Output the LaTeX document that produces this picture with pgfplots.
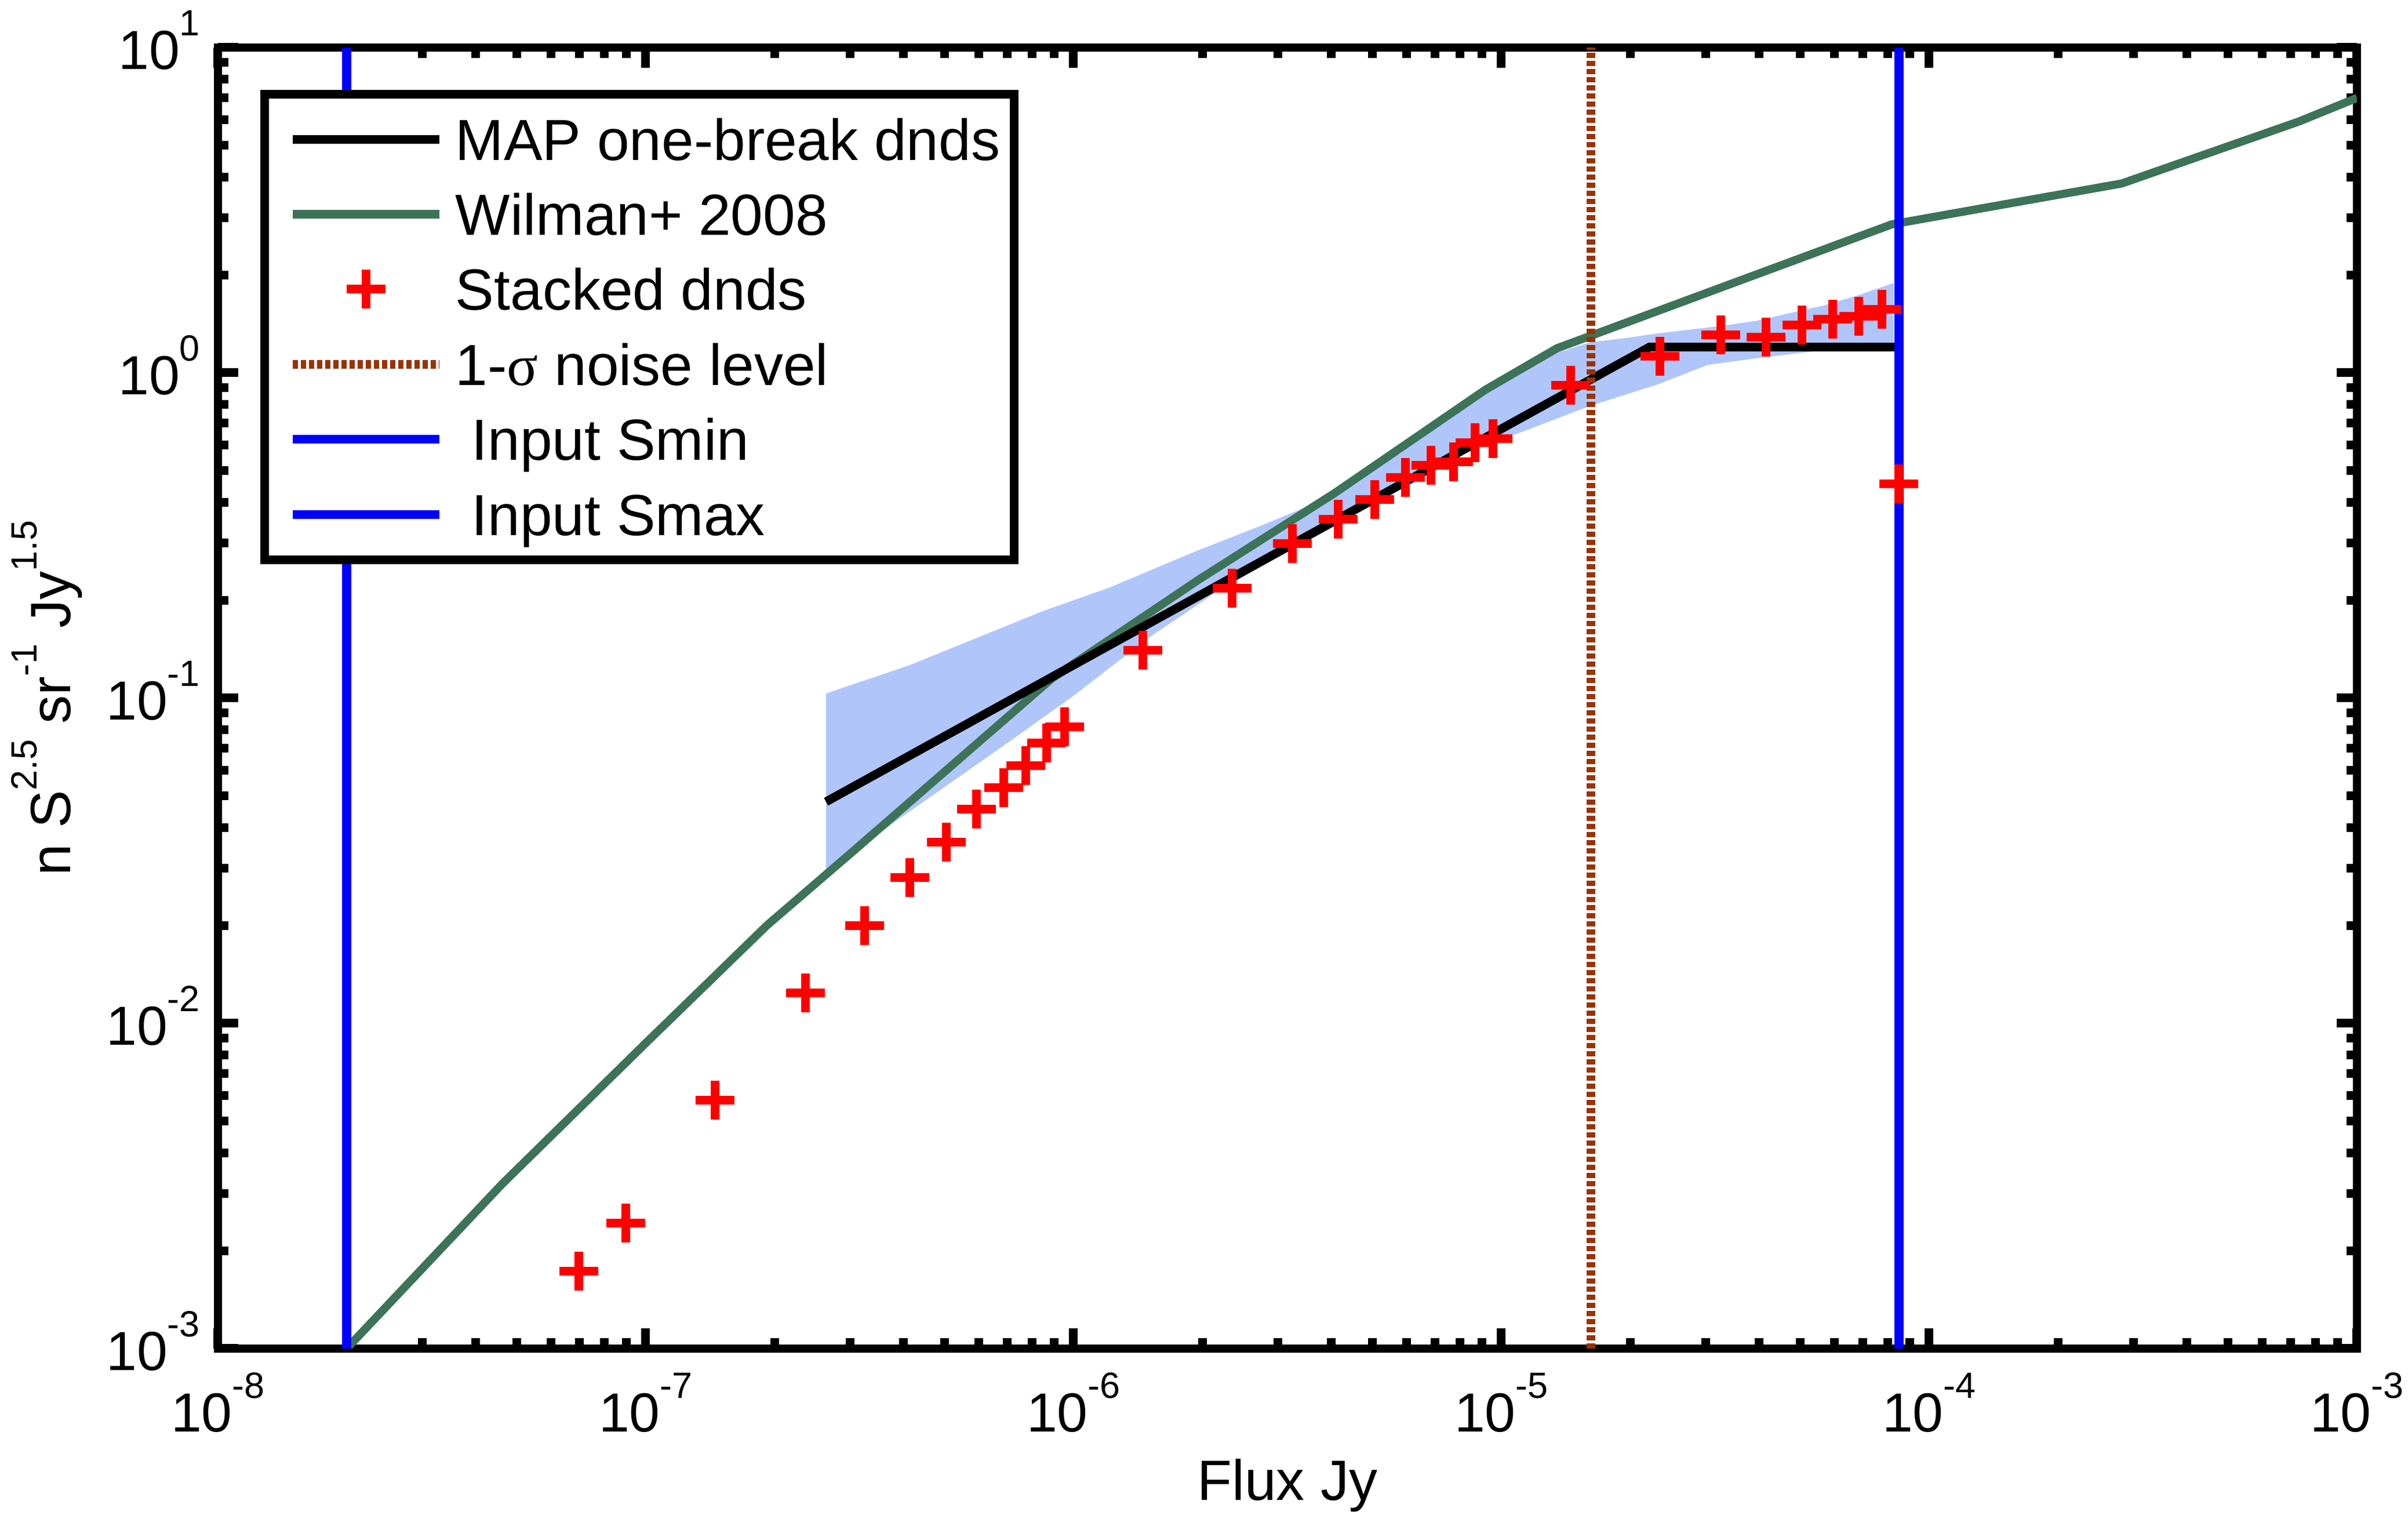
\documentclass[border=0pt]{standalone}
\usepackage{fontspec}
\setmainfont{Liberation Sans}
\newfontfamily\greekserif{Liberation Serif}
\usepackage{pgfplots}
\pgfplotsset{compat=1.18}
\definecolor{wgreen}{RGB}{61,115,88}
\definecolor{bandblue}{RGB}{176,198,251}
\definecolor{noisebrown}{RGB}{153,51,0}
\newcommand{\sups}[1]{\raisebox{5.8pt}{\fontsize{6.3}{6.3}\selectfont #1}}
\begin{document}
\begin{tikzpicture}
\begin{axis}[
  at={(0,0)}, anchor=south west,
  scale only axis, width=369pt, height=224.4pt,
  xmode=log, ymode=log,
  xmin=1e-8, xmax=1e-3, ymin=1e-3, ymax=10,
  axis line style={line width=1.4pt},
  tick style={black, line width=1.5pt},
  major tick length=3.5pt, minor tick length=1.8pt,
  xtick={1e-8,1e-7,1e-6,1e-5,1e-4,1e-3},
  xticklabels={10\sups{-8},10\sups{-7},10\sups{-6},10\sups{-5},10\sups{-4},10\sups{-3}},
  minor xtick={2e-8,3e-8,4e-8,5e-8,6e-8,7e-8,8e-8,9e-8,
               2e-7,3e-7,4e-7,5e-7,6e-7,7e-7,8e-7,9e-7,
               2e-6,3e-6,4e-6,5e-6,6e-6,7e-6,8e-6,9e-6,
               2e-5,3e-5,4e-5,5e-5,6e-5,7e-5,8e-5,9e-5,
               2e-4,3e-4,4e-4,5e-4,6e-4,7e-4,8e-4,9e-4},
  ytick={1e-3,1e-2,1e-1,1,10},
  yticklabels={10\sups{-3},10\sups{-2},10\sups{-1},10\sups{0},10\sups{1}},
  minor ytick={2e-3,3e-3,4e-3,5e-3,6e-3,7e-3,8e-3,9e-3,
               2e-2,3e-2,4e-2,5e-2,6e-2,7e-2,8e-2,9e-2,
               0.2,0.3,0.4,0.5,0.6,0.7,0.8,0.9,
               2,3,4,5,6,7,8,9},
  tick label style={font=\fontsize{9.5}{11}\selectfont},
  xticklabel style={anchor=base, inner sep=0pt, yshift=-14.4pt},
  yticklabel style={anchor=base east, inner sep=0pt, xshift=-2.9pt, yshift=-3.8pt},
  xlabel={Flux Jy},
  ylabel={n S\sups{2.5} sr\sups{-1} Jy\sups{1.5}},
  every axis x label/.style={at={(axis description cs:0.5,-0.11676)}, anchor=base, font=\fontsize{9.8}{12}\selectfont},
  every axis y label/.style={at={(axis description cs:-0.06883,0.5)}, anchor=base, rotate=90, font=\fontsize{9.8}{12}\selectfont},
  legend style={at={(axis description cs:0.02195,0.9643)}, anchor=north west,
    draw=black, line width=1.5pt, fill=white, outer sep=0pt,
    inner xsep=2.4pt, inner ysep=3.3pt, row sep=3.94pt, column sep=2.8pt,
    font=\fontsize{10}{12}\selectfont,
    nodes={inner sep=0pt, text height=8.1pt, text depth=0.9pt},
    cells={anchor=west}},
  legend image code/.code={%
    \pgfpathrectangle{\pgfpoint{-2.4pt}{-4.5pt}}{\pgfpoint{27.7pt}{9pt}}%
    \pgfusepath{use as bounding box}%
    \draw[mark repeat=2,mark phase=2,#1] plot coordinates {(0pt,0pt) (12.65pt,0pt) (25.3pt,0pt)};},
]
% uncertainty band
\addplot[fill=bandblue, draw=none, forget plot] coordinates {
(2.64e-7,0.1033) (4.12e-7,0.1259) (8.51e-7,0.1854) (1.216e-6,0.2188)
(1.936e-6,0.2831) (2.673e-6,0.3342) (3.565e-6,0.3908) (4.266e-6,0.4508)
(6.095e-6,0.6166) (8.730e-6,0.8570) (1.140e-5,1.0375) (1.327e-5,1.1455)
(1.618e-5,1.2417) (1.936e-5,1.2764) (2.317e-5,1.3213) (2.773e-5,1.3583)
(3.311e-5,1.3964) (3.963e-5,1.4454) (4.742e-5,1.5276) (5.675e-5,1.6106)
(6.776e-5,1.7258) (8.26e-5,1.888)
(8.26e-5,1.180) (5.37e-5,1.164) (3.963e-5,1.109) (3.034e-5,1.057)
(2.317e-5,0.9204) (1.618e-5,0.7925) (1.132e-5,0.6622) (7.907e-6,0.5623)
(3.981e-6,0.335) (2.158e-6,0.2118) (1.486e-6,0.1521) (1.0e-6,0.1016)
(7.194e-7,0.0746) (3.899e-7,0.0424) (2.64e-7,0.0291) (2.64e-7,0.1033)
};
% Wilman+ 2008
\addplot[wgreen, line width=1.4pt, forget plot] coordinates {
(2.0e-8,1.0e-3) (4.62e-8,3.21e-3) (1.0e-7,8.69e-3) (1.92e-7,2.00e-2)
(3.10e-7,3.44e-2) (8.91e-7,0.115) (1.96e-6,0.231) (4.07e-6,0.426)
(9.18e-6,0.887) (1.35e-5,1.19) (8.18e-5,2.86) (2.82e-4,3.82)
(7.31e-4,5.92) (1.0e-3,7.0)
};
% MAP one-break
\addplot[black, line width=1.5pt, forget plot] coordinates {
(2.64e-7,0.048) (2.22e-5,1.20) (8.5e-5,1.20)
};
% stacked dnds
\addplot[only marks, red, mark=+, mark size=3.35pt, line width=1.5pt, forget plot] coordinates {
(6.98e-8,1.73e-3) (8.99e-8,2.43e-3) (1.45e-7,5.81e-3) (2.36e-7,1.24e-2)
(3.25e-7,2.00e-2) (4.14e-7,2.81e-2) (5.05e-7,3.61e-2) (5.93e-7,4.55e-2)
(6.87e-7,5.30e-2) (7.73e-7,6.21e-2) (8.65e-7,7.29e-2) (9.53e-7,8.17e-2)
(1.45e-6,0.140) (2.35e-6,0.218) (3.25e-6,0.299) (4.15e-6,0.354)
(5.06e-6,0.407) (5.96e-6,0.477) (6.85e-6,0.519) (7.74e-6,0.533)
(8.67e-6,0.610) (9.55e-6,0.628)
(1.45e-5,0.914) (2.35e-5,1.125) (3.26e-5,1.306) (4.16e-5,1.285)
(5.05e-5,1.402) (5.95e-5,1.46) (6.85e-5,1.49) (7.76e-5,1.57)
(8.5e-5,0.455)
};
% noise level
\addplot[noisebrown, line width=1.5pt, dash pattern=on 0.9pt off 0.5pt, forget plot] coordinates {(1.62e-5,1e-3) (1.62e-5,10)};
% Smin, Smax
\addplot[blue, line width=1.6pt, forget plot] coordinates {(2.0e-8,1e-3) (2.0e-8,10)};
\addplot[blue, line width=1.6pt, forget plot] coordinates {(8.51e-5,1e-3) (8.51e-5,10)};

\addlegendimage{black, line width=1.5pt}
\addlegendentry{MAP one-break dnds}
\addlegendimage{wgreen, line width=1.5pt}
\addlegendentry{Wilman+ 2008}
\addlegendimage{only marks, red, mark=+, mark size=3.35pt, line width=1.5pt}
\addlegendentry{Stacked dnds}
\addlegendimage{noisebrown, line width=1.5pt, dash pattern=on 0.9pt off 0.5pt}
\addlegendentry{1-{\greekserif σ} noise level}
\addlegendimage{blue, line width=1.5pt}
\addlegendentry{\hspace{2.8pt}Input Smin}
\addlegendimage{blue, line width=1.5pt}
\addlegendentry{\hspace{2.8pt}Input Smax}
\end{axis}
\pgfresetboundingbox
\path[use as bounding box] (-37.6pt,-28.7pt) rectangle (377.8pt,232.6pt);
\end{tikzpicture}
\end{document}
